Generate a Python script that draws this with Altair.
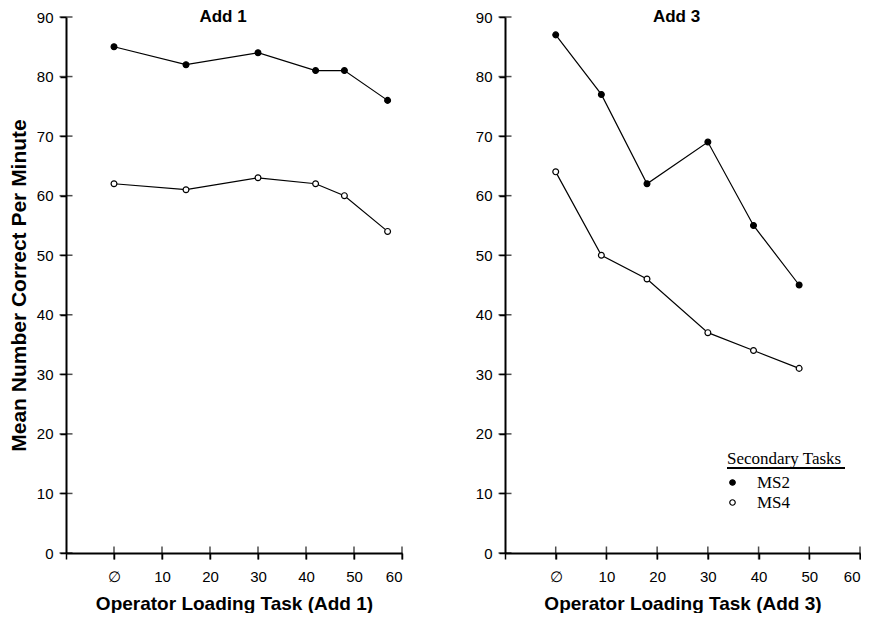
import altair as alt
import pandas as pd

# ---- data ----
add1_load = [0, 15, 30, 42, 48, 57]
add1_ms2 = [85, 82, 84, 81, 81, 76]
add1_ms4 = [62, 61, 63, 62, 60, 54]

add3_load = [0, 9, 18, 30, 39, 48]
add3_ms2 = [87, 77, 62, 69, 55, 45]
add3_ms4 = [64, 50, 46, 37, 34, 31]

tasks = ["MS2", "MS4"]
y_ticks = [0, 10, 20, 30, 40, 50, 60, 70, 80, 90]
x_ticks = [0, 10, 20, 30, 40, 50, 60]
x_axis_values = [-10] + x_ticks


def frame(load, ms2, ms4):
    rows = []
    for x, v in zip(load, ms2):
        rows.append({"load": x, "value": v, "task": "MS2"})
    for x, v in zip(load, ms4):
        rows.append({"load": x, "value": v, "task": "MS4"})
    return pd.DataFrame(rows)


df1 = frame(add1_load, add1_ms2, add1_ms4)
df3 = frame(add3_load, add3_ms2, add3_ms4)
ytick_df = pd.DataFrame({"load": [-10] * len(y_ticks), "value": y_ticks})
xtick_df = pd.DataFrame({"load": x_ticks, "value": [0] * len(x_ticks)})

SANS = "Liberation Sans"
SERIF = "Liberation Serif"
PLOT_H = 536


def panel(df, title, xtitle, width, ytitle, legend, title_dx):
    xscale = alt.Scale(domain=[-10, 60], range=[0, width], nice=False,
                       zero=False, padding=0)
    yscale = alt.Scale(domain=[0, 90], nice=False, padding=0)
    xaxis = alt.Axis(
        values=x_axis_values,
        labelExpr="datum.value == 0 ? '\u2205' : (datum.value < 0 ? '' : datum.label)",
        title=xtitle,
        titleFontSize=19,
        titlePadding=10,
        labelPadding=10,
        grid=False,
    )
    if ytitle is None:
        yaxis = alt.Axis(values=y_ticks, title=None, labelPadding=7, grid=False)
    else:
        yaxis = alt.Axis(values=y_ticks, title=ytitle, titleFontSize=21,
                         titlePadding=7, labelPadding=7, grid=False)

    base = alt.Chart(df)
    lines = base.mark_line(color="black", strokeWidth=1.2).encode(
        x=alt.X("load:Q", scale=xscale, axis=xaxis),
        y=alt.Y("value:Q", scale=yscale, axis=yaxis),
        detail="task:N",
    )
    if legend:
        leg = alt.Legend(
            title="Secondary Tasks",
            orient="none",
            legendX=222,
            legendY=434,
            titleFont=SERIF,
            titleFontWeight="normal",
            titleFontSize=17,
            titleColor="black",
            titlePadding=6,
            labelFont=SERIF,
            labelFontSize=17,
            labelColor="black",
            labelOffset=16,
            symbolStrokeColor="black",
            symbolStrokeWidth=1.2,
            symbolSize=30,
            symbolOffset=-3,
            rowPadding=2,
            padding=0,
        )
    else:
        leg = None
    points = base.mark_point(shape="circle", stroke="black", strokeWidth=1.2,
                             size=34, opacity=1).encode(
        x=alt.X("load:Q", scale=xscale),
        y=alt.Y("value:Q", scale=yscale),
        fill=alt.Fill("task:N",
                      scale=alt.Scale(domain=tasks, range=["black", "white"]),
                      legend=leg),
    )
    yt = alt.Chart(ytick_df).mark_tick(orient="horizontal", size=13,
                                       thickness=1.5, color="black").encode(
        x=alt.X("load:Q", scale=xscale), y=alt.Y("value:Q", scale=yscale))
    xt = alt.Chart(xtick_df).mark_tick(orient="vertical", size=13,
                                       thickness=1.5, color="black").encode(
        x=alt.X("load:Q", scale=xscale), y=alt.Y("value:Q", scale=yscale))
    layers = [lines, points, yt, xt]
    if legend:
        underline = alt.Chart(df).mark_rule(color="black", strokeWidth=1).encode(
            x=alt.value(222), x2=alt.value(340), y=alt.value(451))
        layers.append(underline)
    return alt.layer(*layers).properties(
        width=width,
        height=PLOT_H,
        title=alt.TitleParams(title, fontSize=17, fontWeight="bold", font=SANS,
                              color="black", offset=-16, anchor="middle",
                              dx=title_dx),
    )


left = panel(df1, "Add 1", "Operator Loading Task (Add 1)", 336,
             "Mean Number Correct Per Minute", False, -11)
right = panel(df3, "Add 3", "Operator Loading Task (Add 3)", 355, None, True, -6)

chart = alt.hconcat(left, right, spacing=72).resolve_legend(
    fill="independent").resolve_scale(fill="independent").properties(
    padding={"left": 0, "top": 0, "right": 0, "bottom": 0},
    background="white",
).configure_view(stroke=None).configure_scale(
    continuousPadding=0
).configure_axis(
    grid=False,
    domainColor="black",
    domainWidth=2,
    tickColor="black",
    tickWidth=1.5,
    tickSize=6,
    labelFont=SANS,
    labelFontSize=15,
    labelColor="black",
    titleFont=SANS,
    titleFontWeight="bold",
    titleColor="black",
)

chart.save("out.html", embed_options={"renderer": "svg", "actions": False})
